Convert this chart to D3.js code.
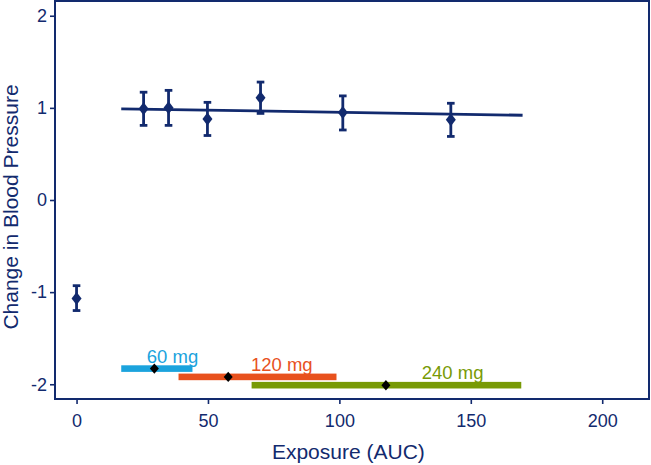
<!DOCTYPE html>
<html>
<head>
<meta charset="utf-8">
<script src="https://cdn.jsdelivr.net/npm/d3@7"></script>
<style>
  body { margin: 0; background: #fff; }
  svg { display: block; font-family: "Liberation Sans", Arial, sans-serif; }
</style>
</head>
<body>
<div class="container"></div>
<script>
// exposure-response points with error bars
const exposure = [0, 25.5, 35, 49.8, 70, 101.3, 142.4]
const change = [-1.07, 0.99, 1.0, 0.88, 1.11, 0.95, 0.87]
const lower = [-1.2, 0.81, 0.81, 0.70, 0.94, 0.76, 0.69]
const upper = [-0.93, 1.17, 1.19, 1.06, 1.28, 1.13, 1.05]

// fitted line ends
const fitX = [17, 169.7]
const fitY = [0.99, 0.92]

// dose exposure ranges
const doses = ['60 mg', '120 mg', '240 mg']
const rangeLow = [17, 38.8, 66.6]
const rangeHigh = [44.1, 98.9, 169.2]
const rangeMid = [29.6, 57.7, 117.7]
const rangeLevel = [-1.83, -1.92, -2.01]
const labelAt = [36.5, 78.1, 143.1]
const doseColors = ['#1ba3dd', '#e8511d', '#789a06']

const xTicks = [0, 50, 100, 150, 200]
const yTicks = [-2, -1, 0, 1, 2]

const navy = '#122a6e'
const width = 651
const height = 465
const margin = { left: 55, top: 1, right: 2, bottom: 66 }
const plotW = width - margin.left - margin.right
const plotH = height - margin.top - margin.bottom

const svg = d3.select('.container').append('svg')
  .attr('width', width).attr('height', height)

const g = svg.append('g').attr('transform', `translate(${margin.left},${margin.top})`)

const x = d3.scaleLinear().domain([-8.2, 217.8]).range([0, plotW])
const y = d3.scaleLinear().domain([-2.16, 2.16]).range([plotH, 0])

// axes
const xAxis = g.append('g')
  .attr('transform', `translate(0,${plotH})`)
  .call(d3.axisBottom(x).tickValues(xTicks).tickSize(5).tickPadding(10).tickFormat(d => String(d)))
const yAxis = g.append('g')
  .call(d3.axisLeft(y).tickValues(yTicks).tickSize(5).tickPadding(3).tickFormat(d => String(d)))

for (const ax of [xAxis, yAxis]) {
  ax.select('.domain').remove()
  ax.selectAll('.tick line').attr('stroke', navy).attr('stroke-width', 1.6)
  ax.selectAll('.tick text').attr('fill', navy).attr('font-size', 18)
    .attr('font-family', '"Liberation Sans", Arial, sans-serif')
}

// frame
g.append('rect')
  .attr('x', 0).attr('y', 0).attr('width', plotW).attr('height', plotH)
  .attr('fill', 'none').attr('stroke', navy).attr('stroke-width', 2)

// fitted line
g.append('line')
  .attr('x1', x(fitX[0])).attr('y1', y(fitY[0]))
  .attr('x2', x(fitX[1])).attr('y2', y(fitY[1]))
  .attr('stroke', navy).attr('stroke-width', 2.8)

const diamond = (cx, cy, hw, hh) =>
  `M${cx},${cy - hh}L${cx + hw},${cy}L${cx},${cy + hh}L${cx - hw},${cy}Z`

// error bars
const pts = exposure.map((e, i) => ({ e, v: change[i], lo: lower[i], hi: upper[i] }))
const pt = g.selectAll('.pt').data(pts).enter().append('g').attr('class', 'pt')
pt.append('line')
  .attr('x1', d => x(d.e)).attr('x2', d => x(d.e))
  .attr('y1', d => y(d.lo)).attr('y2', d => y(d.hi))
  .attr('stroke', navy).attr('stroke-width', 2.8)
pt.selectAll('.cap').data(d => [[d.e, d.lo], [d.e, d.hi]]).enter().append('line')
  .attr('x1', d => x(d[0]) - 3.8).attr('x2', d => x(d[0]) + 3.8)
  .attr('y1', d => y(d[1])).attr('y2', d => y(d[1]))
  .attr('stroke', navy).attr('stroke-width', 2.8)
pt.append('path')
  .attr('d', d => diamond(x(d.e), y(d.v), 5, 6.5))
  .attr('fill', navy)

// dose ranges
const ranges = doses.map((name, i) => ({
  name, lo: rangeLow[i], hi: rangeHigh[i], mid: rangeMid[i], lvl: rangeLevel[i], at: labelAt[i], color: doseColors[i]
}))
const rg = g.selectAll('.range').data(ranges).enter().append('g').attr('class', 'range')
rg.append('rect')
  .attr('x', d => x(d.lo)).attr('width', d => x(d.hi) - x(d.lo))
  .attr('y', d => y(d.lvl) - 3.3).attr('height', 6.6)
  .attr('fill', d => d.color)
rg.append('path')
  .attr('d', d => diamond(x(d.mid), y(d.lvl), 4.5, 5.2))
  .attr('fill', '#000')
rg.append('text')
  .attr('x', d => x(d.at)).attr('y', d => y(d.lvl) - 6)
  .attr('text-anchor', 'middle')
  .attr('font-size', 18.5)
  .attr('fill', d => d.color)
  .text(d => d.name)

// axis titles
svg.append('text')
  .attr('x', margin.left + x(100) + 9).attr('y', 459)
  .attr('text-anchor', 'middle').attr('font-size', 21).attr('fill', navy)
  .text('Exposure (AUC)')
svg.append('text')
  .attr('transform', `translate(18,${margin.top + y(0) + 7}) rotate(-90)`)
  .attr('text-anchor', 'middle').attr('font-size', 21).attr('fill', navy)
  .text('Change in Blood Pressure')
</script>
</body>
</html>
